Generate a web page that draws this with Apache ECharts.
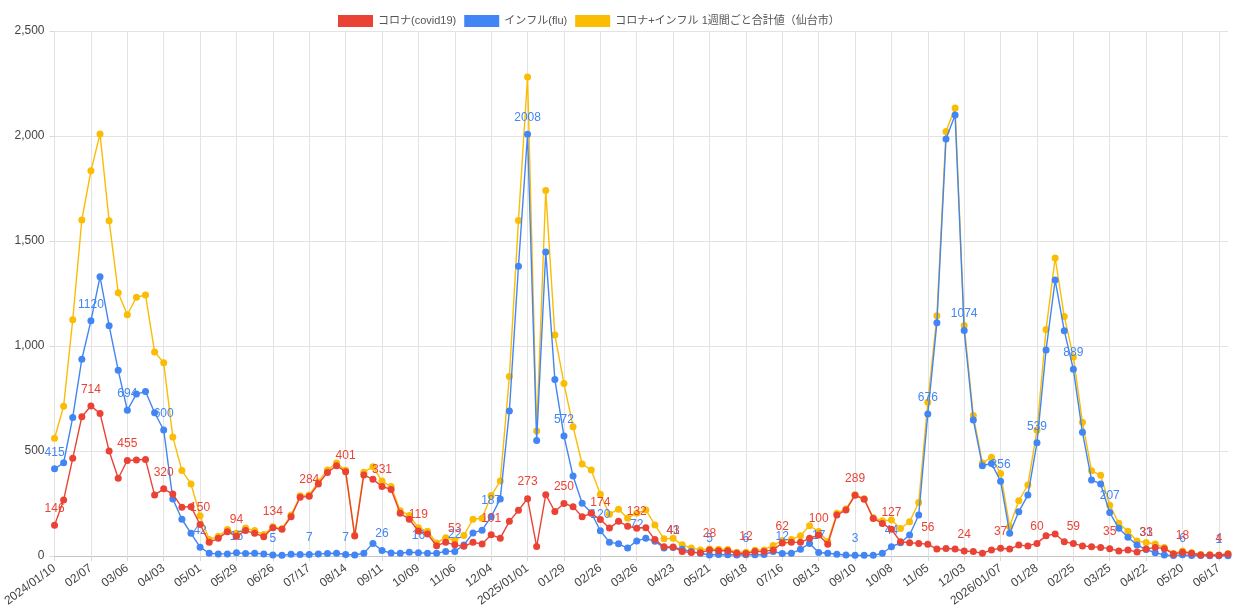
<!DOCTYPE html>
<html>
<head>
<meta charset="utf-8">
<script src="https://cdn.jsdelivr.net/npm/echarts@6/dist/echarts.min.js"></script>
<style>
  html, body { margin: 0; padding: 0; background: #fff; }
  #chart { width: 1233px; height: 616px; }
</style>
</head>
<body>
<div id="chart"></div>
<script>
// weekly dates (labels every 4th point)
const dates = [
  '2024/01/10', '01/17', '01/24', '01/31', '02/07', '02/14', '02/21', '02/28',
  '03/06', '03/13', '03/20', '03/27', '04/03', '04/10', '04/17', '04/24',
  '05/01', '05/08', '05/15', '05/22', '05/29', '06/05', '06/12', '06/19',
  '06/26', '07/01', '07/03', '07/10', '07/17', '07/24', '07/31', '08/07',
  '08/14', '08/21', '08/28', '09/04', '09/11', '09/18', '09/25', '10/02',
  '10/09', '10/16', '10/23', '10/30', '11/06', '11/13', '11/20', '11/27',
  '12/04', '12/11', '12/18', '12/25', '2025/01/01', '01/08', '01/15', '01/22',
  '01/29', '02/05', '02/12', '02/19', '02/26', '03/05', '03/12', '03/19',
  '03/26', '04/02', '04/09', '04/16', '04/23', '04/30', '05/07', '05/14',
  '05/21', '05/28', '06/04', '06/11', '06/18', '06/25', '07/02', '07/09',
  '07/16', '07/23', '07/30', '08/06', '08/13', '08/20', '08/27', '09/03',
  '09/10', '09/17', '09/24', '10/01', '10/08', '10/15', '10/22', '10/29',
  '11/05', '11/12', '11/19', '11/26', '12/03', '12/10', '12/17', '12/24',
  '2026/01/07', '01/14', '01/18', '01/21', '01/28', '02/04', '02/11', '02/18',
  '02/25', '03/04', '03/11', '03/18', '03/25', '04/01', '04/08', '04/15',
  '04/22', '04/29', '05/06', '05/13', '05/20', '05/27', '06/03', '06/10',
  '06/17', '06/24'
];

const covid = [
  146, 267, 465, 663, 714, 679, 500, 370, 455, 457, 460, 290, 320, 295, 232, 235,
  150, 65, 84, 116, 94, 121, 108, 92, 134, 127, 187, 280, 284, 343, 398, 430,
  401, 95, 386, 365, 331, 317, 203, 175, 119, 105, 49, 65, 53, 46, 65, 57,
  101, 85, 165, 218, 273, 45, 292, 212, 250, 235, 187, 203, 174, 133, 165, 142,
  132, 135, 78, 44, 43, 21, 17, 16, 28, 25, 25, 13, 12, 21, 22, 29,
  62, 65, 65, 84, 100, 56, 195, 219, 289, 270, 179, 155, 127, 68, 63, 60,
  56, 33, 36, 33, 24, 21, 13, 29, 37, 33, 52, 48, 60, 97, 105, 68,
  59, 48, 44, 41, 35, 24, 29, 19, 33, 41, 35, 10, 18, 13, 5, 5,
  4, 10
];

const flu = [
  415, 444, 660, 937, 1120, 1330, 1097, 884, 694, 771, 783, 682, 600, 272, 175, 108,
  42, 13, 10, 10, 15, 12, 13, 10, 5, 3, 8, 7, 7, 10, 12, 13,
  7, 5, 13, 60, 26, 14, 13, 18, 16, 13, 13, 22, 22, 52, 110, 123,
  187, 272, 690, 1380, 2008, 550, 1448, 840, 572, 381, 251, 206, 120, 66, 58, 38,
  72, 84, 70, 38, 41, 32, 21, 13, 5, 7, 6, 5, 6, 6, 7, 21,
  12, 13, 32, 60, 17, 13, 8, 5, 3, 3, 3, 13, 44, 63, 100, 195,
  676, 1111, 1986, 2100, 1074, 648, 430, 441, 356, 108, 211, 290, 539, 981, 1314, 1073,
  889, 589, 362, 343, 207, 132, 89, 52, 31, 16, 5, 2, 6, 2, 2, 1,
  1, 1
];

const total = [
  561, 713, 1125, 1600, 1834, 2009, 1597, 1254, 1149, 1232, 1243, 972, 920, 567, 407, 343,
  192, 78, 94, 126, 109, 133, 121, 102, 139, 130, 195, 287, 291, 353, 410, 443,
  408, 100, 399, 425, 357, 331, 216, 193, 135, 118, 62, 87, 75, 98, 175, 180,
  288, 357, 855, 1598, 2281, 595, 1740, 1052, 822, 616, 438, 409, 294, 199, 223, 180,
  204, 219, 148, 82, 84, 53, 38, 29, 33, 32, 31, 18, 18, 27, 29, 50,
  74, 78, 97, 144, 117, 69, 203, 224, 292, 273, 182, 168, 171, 131, 163, 255,
  732, 1144, 2022, 2133, 1098, 669, 443, 470, 393, 141, 263, 338, 599, 1078, 1419, 1141,
  948, 637, 406, 384, 242, 156, 118, 71, 64, 57, 40, 12, 24, 15, 7, 6,
  5, 11
];

const RED = '#ea4335';
const BLUE = '#4285f4';
const YELLOW = '#fbbc04';
const FONT = '"Liberation Sans", Arial, "Noto Sans CJK JP", sans-serif';

function everyFourth(p) {
  return p.dataIndex % 4 === 0 ? String(p.value) : '';
}

const chart = echarts.init(document.getElementById('chart'));
chart.setOption({
  animation: false,
  textStyle: { fontFamily: FONT },
  legend: {
    top: 10,
    left: 333,
    itemWidth: 35,
    itemHeight: 12,
    itemGap: 8,
    icon: 'rect',
    textStyle: { color: '#555', fontSize: 11, fontFamily: FONT },
    data: ['コロナ(covid19)', 'インフル(flu)', 'コロナ+インフル 1週間ごと合計値（仙台市）']
  },
  grid: { left: 52, right: 5, top: 31, bottom: 60 },
  xAxis: {
    type: 'category',
    data: dates,
    boundaryGap: false,
    axisLine: { lineStyle: { color: '#c4c4c4' } },
    axisTick: { show: true, interval: 3, length: 5, lineStyle: { color: '#d8d8d8' } },
    axisLabel: { interval: 3, rotate: 36, color: '#444', fontSize: 12, margin: 11, fontFamily: FONT },
    splitLine: { show: true, interval: 3, lineStyle: { color: '#e3e3e3' } }
  },
  yAxis: {
    type: 'value',
    min: 0,
    max: 2500,
    interval: 500,
    axisLine: { show: false },
    axisTick: { show: true, length: 5, lineStyle: { color: '#d8d8d8' } },
    axisLabel: {
      color: '#444', fontSize: 12, margin: 10, fontFamily: FONT,
      formatter: v => v.toLocaleString('en-US')
    },
    splitLine: { lineStyle: { color: '#e3e3e3' } }
  },
  series: [
    {
      name: 'コロナ(covid19)',
      type: 'line',
      data: covid,
      z: 4,
      color: RED,
      symbol: 'circle',
      symbolSize: 7,
      showAllSymbol: true,
      lineStyle: { width: 1.4 },
      label: { show: true, position: 'top', distance: 7, color: RED, fontSize: 12, formatter: everyFourth }
    },
    {
      name: 'インフル(flu)',
      type: 'line',
      data: flu,
      z: 3,
      color: BLUE,
      symbol: 'circle',
      symbolSize: 7,
      showAllSymbol: true,
      lineStyle: { width: 1.4 },
      label: { show: true, position: 'top', distance: 7, color: BLUE, fontSize: 12, formatter: everyFourth }
    },
    {
      name: 'コロナ+インフル 1週間ごと合計値（仙台市）',
      type: 'line',
      data: total,
      z: 2,
      color: YELLOW,
      symbol: 'circle',
      symbolSize: 7,
      showAllSymbol: true,
      lineStyle: { width: 1.4 }
    }
  ]
});
</script>
</body>
</html>
